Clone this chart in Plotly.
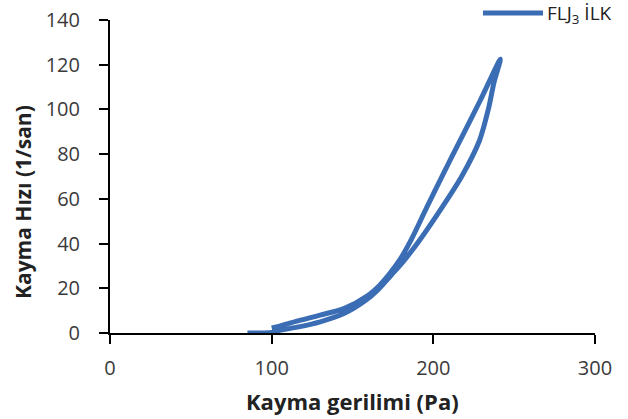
import plotly.graph_objects as go

# Flow curve: shear stress (Pa) vs shear rate (1/s); up sweep then down sweep
stress_up = [85, 95, 100, 105, 115, 130, 145, 158, 166, 173.5, 182, 191.5, 205.5, 217.5, 228.5, 234, 237.5, 241.5]
rate_up = [0.0, 0.0, 0.2, 1.2, 2.5, 5.0, 8.8, 14.5, 19.5, 25.5, 32.5, 41.5, 56.3, 70, 86, 100, 112, 122.5]

stress_down = [241.5, 229, 216.5, 206, 196, 186.5, 179.5, 173.5, 167, 159, 145, 130, 115, 105, 100]
rate_down = [122.5, 104, 86, 71, 56.3, 42, 33, 27, 21.5, 16.5, 11, 8.0, 5.2, 3.1, 2.3]

x_ticks = [0, 100, 200, 300]
y_ticks = [0, 20, 40, 60, 80, 100, 120, 140]

series_name = "FLJ<sub>3</sub> İLK"
line_color = "#3b6db4"

stress = stress_up + stress_down[1:]
rate = rate_up + rate_down[1:]

W, H = 628, 419
# plot area in pixels
left, right, top, bottom = 110, 595, 20, 333

fig = go.Figure()
fig.add_trace(go.Scatter(
    x=stress, y=rate, mode="lines", name=series_name, showlegend=False,
    line=dict(color=line_color, width=5, shape="spline", smoothing=0.8),
))
# empty companion trace so the label-carrying y axis is rendered
fig.add_trace(go.Scatter(
    x=[stress[0]], y=[rate[0]], yaxis="y2", mode="lines", showlegend=False,
    hoverinfo="skip", line=dict(color="rgba(0,0,0,0)", width=0),
))

font = "'Open Sans', sans-serif"
tick_font = dict(size=20, color="#3a3a3a")
axis_common = dict(
    showgrid=False, zeroline=False, automargin=False,
    showline=True, linecolor="black", linewidth=1.5,
    ticks="outside", ticklen=9, tickwidth=1.5, tickcolor="black",
    tickfont=tick_font,
)
fig.update_layout(
    width=W, height=H,
    margin=dict(l=0, r=0, t=0, b=0),
    paper_bgcolor="white", plot_bgcolor="white",
    font=dict(family=font, size=18, color="#333333"),
    showlegend=False,
    xaxis=dict(range=[0, 300], tickvals=x_ticks, domain=[left / W, right / W],
               ticklabelstandoff=7, **axis_common),
    yaxis=dict(range=[0, 140], tickvals=y_ticks, domain=[1 - bottom / H, 1 - top / H],
               showticklabels=False, **axis_common),
    # companion axis carrying the y tick labels, set further out from the axis line
    yaxis2=dict(range=[0, 140], tickvals=y_ticks, overlaying="y", anchor="x", side="left",
                showgrid=False, zeroline=False, automargin=False, showline=False,
                ticks="outside", ticklen=25, tickcolor="rgba(0,0,0,0)", tickfont=tick_font),
    shapes=[dict(
        type="line", xref="paper", yref="paper",
        x0=483 / W, x1=543 / W, y0=1 - 13 / H, y1=1 - 13 / H,
        line=dict(color=line_color, width=5),
    )],
    annotations=[
        dict(text=series_name, xref="paper", yref="paper", x=545 / W, y=1 - 14 / H,
             xanchor="left", yanchor="middle", showarrow=False,
             font=dict(size=19, color="#222222")),
        dict(text="<b>Kayma gerilimi (Pa)</b>", xref="paper", yref="paper",
             x=352 / W, y=1 - 401 / H, xanchor="center", yanchor="middle", showarrow=False,
             font=dict(size=22, color="#222222")),
        dict(text="<b>Kayma Hızı (1/san)</b>", textangle=-90,
             xref="paper", yref="paper", x=23 / W, y=1 - 202 / H,
             xanchor="center", yanchor="middle", showarrow=False,
             font=dict(size=21, color="#222222")),
    ],
)

fig.write_html("out.html")
